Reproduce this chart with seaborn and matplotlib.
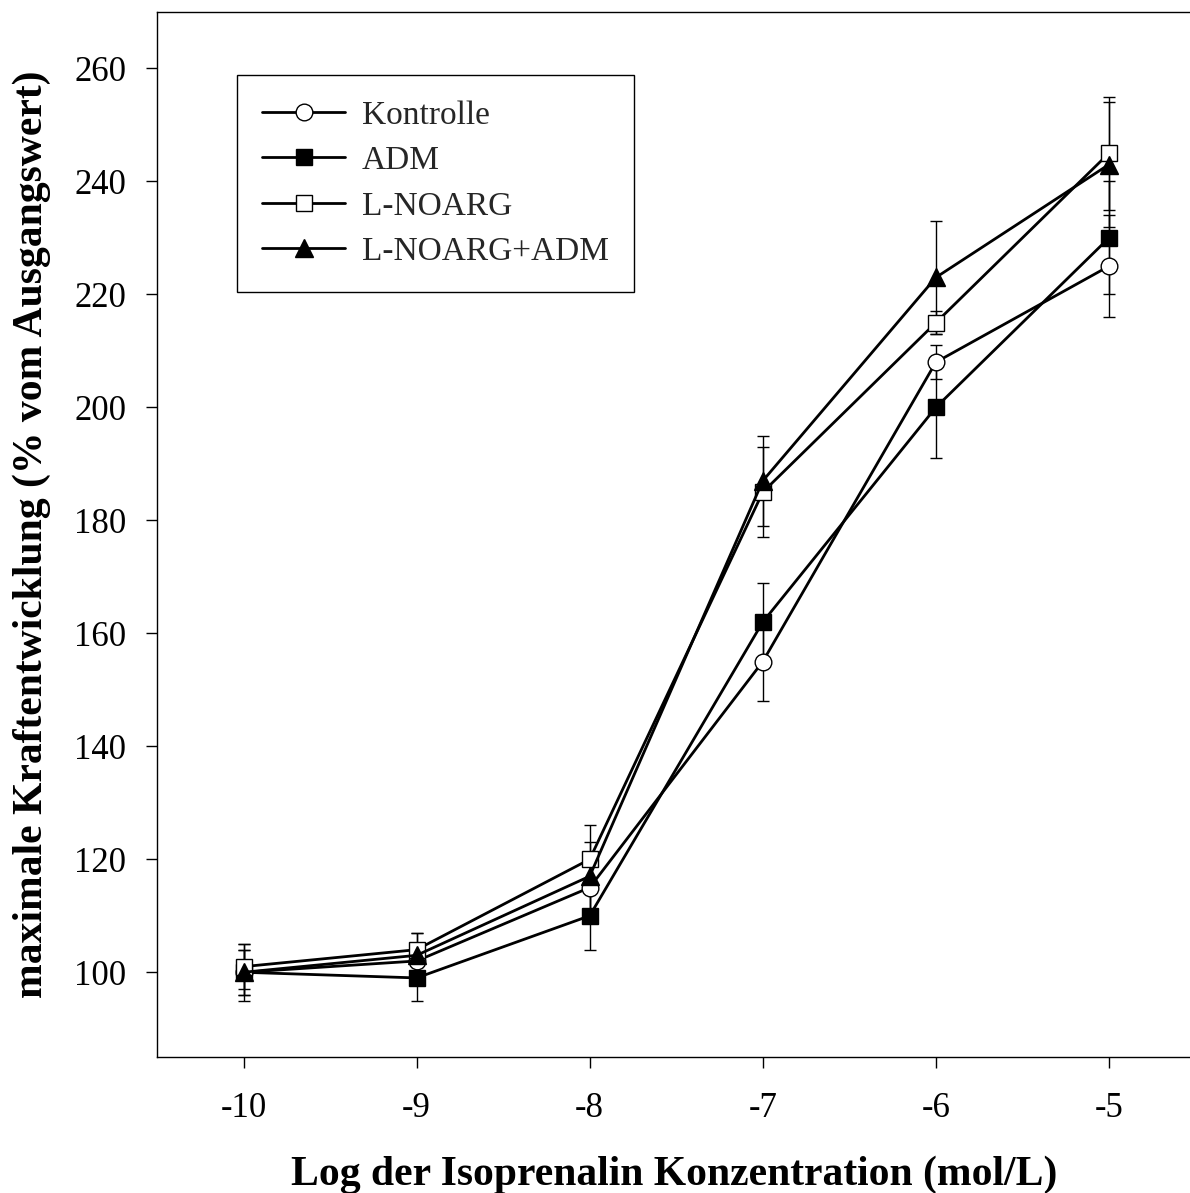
import pandas as pd
import seaborn as sns
import matplotlib.pyplot as plt

# log concentrations of isoprenalin
log_conc = [-10, -9, -8, -7, -6, -5]

# mean values (% vom Ausgangswert) and errors
kontrolle = [100, 102, 115, 155, 208, 225]
kontrolle_err = [4, 3, 5, 7, 3, 9]
adm = [100, 99, 110, 162, 200, 230]
adm_err = [4, 4, 6, 7, 9, 10]
l_noarg = [101, 104, 120, 185, 215, 245]
l_noarg_err = [4, 3, 6, 8, 2, 10]
l_noarg_adm = [100, 103, 117, 187, 223, 243]
l_noarg_adm_err = [5, 4, 6, 8, 10, 11]

group_names = ["Kontrolle", "ADM", "L-NOARG", "L-NOARG+ADM"]

sns.set_theme(style="ticks")
plt.rcParams['font.family'] = ['Liberation Serif', 'DejaVu Serif']
plt.rcParams['axes.unicode_minus'] = False

fig = plt.figure(figsize=(11.9, 11.93), dpi=100)
ax = fig.add_axes([157 / 1190, 1 - 1057 / 1193, 1035 / 1190, 1045 / 1193])

groups = [
    (kontrolle, kontrolle_err, "o", "white", 12),
    (adm, adm_err, "s", "black", 11.5),
    (l_noarg, l_noarg_err, "s", "white", 11.5),
    (l_noarg_adm, l_noarg_adm_err, "^", "black", 13),
]

for (vals, errs, mk, face, ms), name in zip(groups, group_names):
    # error bars behind the lines
    ax.errorbar(log_conc, vals, yerr=errs, fmt="none", ecolor="black",
                elinewidth=1.0, capsize=4.5, capthick=1.0, zorder=1)
    df = pd.DataFrame({"x": log_conc, "y": vals})
    sns.lineplot(data=df, x="x", y="y", ax=ax, color="black", linewidth=2,
                 marker=mk, markersize=ms, markerfacecolor=face,
                 markeredgecolor="black", markeredgewidth=1.0, label=name,
                 zorder=3)

ax.set_xlim(-10.5, -4.52)
ax.set_ylim(85, 270)
ax.set_xticks(log_conc)
ax.set_yticks([100, 120, 140, 160, 180, 200, 220, 240, 260])

for sp in ax.spines.values():
    sp.set_color("black")
    sp.set_linewidth(1.0)

ax.tick_params(axis="both", direction="out", length=8, width=1, color="black",
               labelsize=25, labelcolor="black", pad=14)
ax.tick_params(axis="x", pad=17)

ax.set_xlabel("Log der Isoprenalin Konzentration (mol/L)", fontsize=30,
              fontweight="bold", color="black", labelpad=22)
ax.set_ylabel("maximale Kraftentwicklung (% vom Ausgangswert)", fontsize=30,
              fontweight="bold", color="black", labelpad=17)

leg = ax.legend(loc="upper left", bbox_to_anchor=(0.0774, 0.9397),
                fontsize=24, frameon=True, fancybox=False, edgecolor="black",
                framealpha=1, handlelength=2.5, handletextpad=0.5,
                labelspacing=0.45, borderpad=0.75, borderaxespad=0)
leg.get_frame().set_linewidth(1.0)

fig.savefig("out.png", dpi=100)
